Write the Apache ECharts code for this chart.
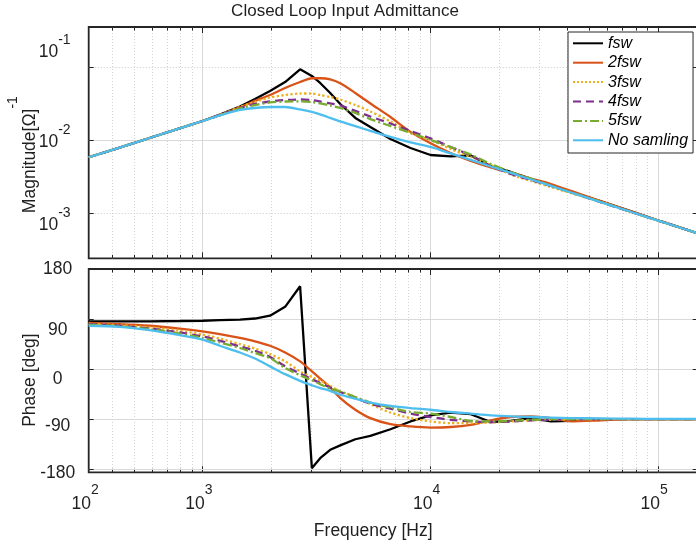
<!DOCTYPE html>
<html><head><meta charset="utf-8">
<script src="https://cdn.jsdelivr.net/npm/echarts@6/dist/echarts.min.js"></script>
<style>html,body{margin:0;padding:0;background:#fff}#c{width:696px;height:547px}</style>
</head><body><div id="c"></div>
<script>
// ---------------- data ----------------
const seriesNames = ['fsw', '2fsw', '3fsw', '4fsw', '5fsw', 'No samling'];
const freq = [316.2, 432, 586, 794, 1000, 1192, 1460, 1701, 1980, 2307, 2685, 3024, 3289, 3641, 4031, 4694, 5466, 6696, 8204, 10050, 12310, 15090, 18480, 22650, 27750, 33990, 41640, 56480, 76600, 103800, 150000];

// magnitude [1/Ohm]
const magFsw = [0.00581, 0.00785, 0.01065, 0.01444, 0.01816, 0.0223, 0.0285, 0.0363, 0.0466, 0.0618, 0.0922, 0.0747, 0.0600, 0.0438, 0.0310, 0.0200, 0.0150, 0.0103, 0.00778, 0.00624, 0.00596, 0.00615, 0.00442, 0.00366, 0.00294, 0.00243, 0.00195, 0.00145, 0.00106, 0.000773, 0.000533];
const mag2fsw = [0.00581, 0.00785, 0.01065, 0.01444, 0.01816, 0.02193, 0.0278, 0.0341, 0.0411, 0.0512, 0.0618, 0.0695, 0.0695, 0.0673, 0.0594, 0.0438, 0.0315, 0.0206, 0.0129, 0.00902, 0.00665, 0.00517, 0.00421, 0.00355, 0.00298, 0.00251, 0.00202, 0.00145, 0.00106, 0.000773, 0.000533];
const mag3fsw = [0.00581, 0.00785, 0.01065, 0.01444, 0.01816, 0.02193, 0.0282, 0.0330, 0.0380, 0.0411, 0.0431, 0.0431, 0.0411, 0.0386, 0.0357, 0.0300, 0.0245, 0.0179, 0.0125, 0.0100, 0.00754, 0.00586, 0.00456, 0.00338, 0.00276, 0.00228, 0.00188, 0.00143, 0.00104, 0.000768, 0.000533];
const mag4fsw = [0.00581, 0.00785, 0.01065, 0.01444, 0.01816, 0.0218, 0.0273, 0.0310, 0.0335, 0.0351, 0.0357, 0.0351, 0.0335, 0.0315, 0.0296, 0.0249, 0.0209, 0.0168, 0.0133, 0.0105, 0.00803, 0.00615, 0.00442, 0.00344, 0.00285, 0.00236, 0.00192, 0.00141, 0.00104, 0.000768, 0.000533];
const mag5fsw = [0.00581, 0.00785, 0.01065, 0.01444, 0.01816, 0.0217, 0.0269, 0.0300, 0.0325, 0.0335, 0.0337, 0.0330, 0.0315, 0.0296, 0.0273, 0.0234, 0.0193, 0.0155, 0.0125, 0.0100, 0.00803, 0.00634, 0.00471, 0.00366, 0.00298, 0.00239, 0.00193, 0.00143, 0.00104, 0.000768, 0.000533];
const magNoSamp = [0.00581, 0.00785, 0.01065, 0.01444, 0.01816, 0.0216, 0.0257, 0.0273, 0.0282, 0.0282, 0.0261, 0.0241, 0.0223, 0.0200, 0.0179, 0.0155, 0.0133, 0.0110, 0.00925, 0.00803, 0.00655, 0.00534, 0.00435, 0.00355, 0.00289, 0.00236, 0.00192, 0.00141, 0.00104, 0.000768, 0.000533];

// phase [deg]
const phFsw = [86, 86, 86, 86.5, 87, 88, 89, 91, 96, 112, 149, -178, -160, -145, -137, -126, -120, -108, -94, -83, -78, -81, -95, -93, -88, -94, -93, -90, -90, -90, -90];
const ph2fsw = [83, 81, 78, 73, 68, 63, 56, 50, 42, 30, 14, -4, -17, -33, -52, -73, -88, -99, -103, -105, -104, -100, -92, -86, -85, -88, -94, -92, -90, -90, -90];
const ph3fsw = [81.5, 79, 75, 69, 62, 55, 45, 37, 27, 14, -4, -14, -21, -30, -40, -50, -63, -78, -88, -94, -97, -97, -96, -94, -92, -91, -90, -90, -90, -90, -90];
const ph4fsw = [81, 78, 73, 66, 58.7, 51, 41, 33, 22, 5, -8, -18, -25, -33, -41, -52, -62, -71, -80, -86, -91, -94, -95, -94, -92, -91, -90, -90, -90, -90, -90];
const ph5fsw = [80, 77, 72, 64, 56, 48, 38, 29, 20, 2, -11, -20, -27, -35, -40, -50, -60, -69, -77, -80, -86, -93, -94, -93, -91, -90, -90, -90, -90, -90, -90];
const phNoSamp = [78, 76, 70, 61, 53, 42, 30, 19, 5, -9, -21, -29, -34, -39, -46, -53, -60, -66, -70, -73, -77, -80, -83, -85, -86, -87, -88, -88.5, -89, -89.5, -89.5];

// axis ticks and labels
const xMajorTicks = [1000, 10000, 100000];
const xMinorTicks = [400, 500, 600, 700, 800, 900, 2000, 3000, 4000, 5000, 6000, 7000, 8000, 9000, 20000, 30000, 40000, 50000, 60000, 70000, 80000, 90000];
const xTickLabelValues = [316.2, 1000, 10000, 100000];
const xTickLabelExps = ['2', '3', '4', '5'];
const magTicks = [0.001, 0.01, 0.1];
const magTickExps = ['-3', '-2', '-1'];
const phaseTicks = [-180, -90, 0, 90, 180];

// ---------------- chart ----------------
const FONT = "'Liberation Sans', Arial, Helvetica, sans-serif";
const TXT = '#1f1f1f';
const colors = ['#000000', '#D95319', '#EDB120', '#7E2F8E', '#77AC30', '#4DBEEE'];
const dashes = ['solid', 'solid', 'dotted', [8, 5], [9, 3, 2, 3], 'solid'];
const magSets = [magFsw, mag2fsw, mag3fsw, mag4fsw, mag5fsw, magNoSamp];
const phSets = [phFsw, ph2fsw, ph3fsw, ph4fsw, ph5fsw, phNoSamp];

const X_MIN = 316.2, X_MAX = 150000;
const MAG_MIN = 2.43e-4, MAG_MAX = 0.348;
const PH_MIN = -185.4, PH_MAX = 180;

function pairs(vals) { return freq.map((f, i) => [f, vals[i]]); }

function spacer(shift) {
  if (!shift) return ['', ''];
  const h = Math.round(Math.abs(shift) * 2);
  return shift > 0 ? ['{sp' + h + '| }\n', ''] : ['', '\n{sp' + h + '| }'];
}
const richBase = {
  b: { fontSize: 17.5, fontFamily: FONT, color: TXT, lineHeight: 20 },
  s: { fontSize: 14, fontFamily: FONT, color: TXT, padding: [0, 0, 24, 0] },
  n: { fontSize: 17.5, fontFamily: FONT, color: TXT, lineHeight: 20 }
};
[4, 8, 14, 20, 22, 24, 30].forEach(h => { richBase['sp' + h] = { fontSize: 2, lineHeight: h }; });

const xShiftRich = Object.assign({}, richBase, {
  s: { fontSize: 14, fontFamily: FONT, color: TXT, padding: [0, 7, 28, 0] }
});

function xLabel(v) {
  const i = xTickLabelValues.findIndex(t => Math.abs(Math.log10(t) - Math.log10(v)) < 0.01);
  return i < 0 ? '' : '{b|10}{s|' + xTickLabelExps[i] + '}';
}
const magShift = [12, 2, -15];
function magLabel(v) {
  const i = magTicks.findIndex(t => Math.abs(Math.log10(t) - Math.log10(v)) < 0.01);
  if (i < 0) return '';
  const sp = spacer(magShift[i]);
  return sp[0] + '{b|10}{s|' + magTickExps[i] + '}' + sp[1];
}
const phShift = { '180': 0, '90': 11, '0': 10, '-90': 7, '-180': 4 };
function phLabel(v) {
  const sp = spacer(phShift[String(v)] || 0);
  return sp[0] + '{n|' + v + '}' + sp[1];
}

const tickStyle = { stroke: '#262626', lineWidth: 1 };
function makeTickRenderer(solidY) {
  return function (params, api) {
    const cs = params.coordSys;
    const top = cs.y, bot = cs.y + cs.height, left = cs.x, right = cs.x + cs.width;
    const kind = api.value(2);
    const pt = api.coord([api.value(0), api.value(1)]);
    const ch = [];
    if (kind === 0 || kind === 1) {
      const px = Math.round(pt[0]) + 0.5;
      if (px <= left + 1 || px >= right - 1) return { type: 'group', children: [] };
      const len = kind === 1 ? 6 : 3.5;
      ch.push({ type: 'line', shape: { x1: px, y1: top, x2: px, y2: bot },
        style: kind === 1 ? { stroke: '#d9d9d9', lineWidth: 1 } : { stroke: '#d4d4d4', lineWidth: 1, lineDash: [1, 2] } });
      ch.push({ type: 'line', shape: { x1: px, y1: top, x2: px, y2: top + len }, style: tickStyle });
      ch.push({ type: 'line', shape: { x1: px, y1: bot, x2: px, y2: bot - len }, style: tickStyle });
    } else {
      const py = Math.round(pt[1]) + 0.5;
      const solid = solidY(api.value(1));
      if (py > top + 1.5 && py < bot - 1.5) {
        ch.push({ type: 'line', shape: { x1: left, y1: py, x2: right, y2: py },
          style: solid ? { stroke: '#d9d9d9', lineWidth: 1 } : { stroke: '#c8c8c8', lineWidth: 1, lineDash: [1, 2] } });
      }
      ch.push({ type: 'line', shape: { x1: left, y1: py, x2: left + 5, y2: py }, style: tickStyle });
      ch.push({ type: 'line', shape: { x1: right, y1: py, x2: right - 5, y2: py }, style: tickStyle });
    }
    return { type: 'group', children: ch };
  };
}
function tickData(yRef, xRef, yTicks) {
  const d = [];
  xMinorTicks.forEach(f => d.push([f, yRef, 0]));
  xMajorTicks.forEach(f => d.push([f, yRef, 1]));
  yTicks.forEach(v => d.push([xRef, v, 2]));
  return d;
}

const series = [
  { type: 'custom', xAxisIndex: 0, yAxisIndex: 0, z: 1, silent: true, clip: false,
    renderItem: makeTickRenderer(v => Math.abs(v - 0.01) < 1e-9),
    encode: { x: 0, y: 1 }, data: tickData(0.01, 1000, magTicks) },
  { type: 'custom', xAxisIndex: 1, yAxisIndex: 1, z: 1, silent: true, clip: false,
    renderItem: makeTickRenderer(() => true),
    encode: { x: 0, y: 1 }, data: tickData(0, 1000, phaseTicks) }
];
seriesNames.forEach((name, k) => {
  const ls = { color: colors[k], width: 2.3, type: dashes[k] };
  series.push({ name, type: 'line', xAxisIndex: 0, yAxisIndex: 0, data: pairs(magSets[k]),
    symbol: 'none', smooth: k === 0 ? false : 0.25, lineStyle: ls, itemStyle: { color: colors[k] }, z: 3 + k * 0.01, animation: false });
  series.push({ name, type: 'line', xAxisIndex: 1, yAxisIndex: 1, data: pairs(phSets[k]),
    symbol: 'none', smooth: k === 0 ? false : 0.25, lineStyle: ls, itemStyle: { color: colors[k] }, z: 3 + k * 0.01, animation: false });
});

const gridStyle = { show: true, borderColor: '#262626', borderWidth: 1.8, backgroundColor: '#fff', containLabel: false, outerBoundsMode: 'none' };
const option = {
  animation: false,
  backgroundColor: '#fff',
  title: { text: 'Closed Loop Input Admittance', left: 340, top: -2, textAlign: 'center',
    textStyle: { fontSize: 17, fontWeight: 'normal', fontFamily: FONT, color: TXT } },
  legend: {
    data: seriesNames, orient: 'vertical', left: 568, top: 32,
    itemWidth: 30, itemHeight: 14, itemGap: 3.4, padding: [3.3, 5, 4.7, 4],
    backgroundColor: '#fff', borderColor: '#262626', borderWidth: 1, borderRadius: 0,
    itemStyle: { opacity: 0 },
    textStyle: { fontSize: 16, fontStyle: 'italic', fontFamily: FONT, color: '#000', lineHeight: 16 },
    z: 10
  },
  grid: [
    Object.assign({ left: 88.7, top: 27, width: 609, height: 231.3 }, gridStyle),
    Object.assign({ left: 88.7, top: 269, width: 609, height: 203.3 }, gridStyle)
  ],
  xAxis: [
    { type: 'log', gridIndex: 0, logBase: 10, min: X_MIN, max: X_MAX,
      axisLine: { show: false }, axisTick: { show: false }, splitLine: { show: false }, axisLabel: { show: false } },
    { type: 'log', gridIndex: 1, logBase: 10, min: X_MIN, max: X_MAX,
      axisLine: { show: false }, axisTick: { show: false }, splitLine: { show: false },
      axisLabel: { show: true, showMinLabel: true, showMaxLabel: false, margin: 11, formatter: xLabel, rich: xShiftRich, align: 'center' },
      name: 'Frequency [Hz]', nameLocation: 'middle', nameGap: 50, nameMoveOverlap: false,
      nameTextStyle: { fontSize: 17.5, fontFamily: FONT, color: TXT, padding: [0, 40, 0, 0] } }
  ],
  yAxis: [
    { type: 'log', gridIndex: 0, logBase: 10, min: MAG_MIN, max: MAG_MAX,
      axisLine: { show: false }, axisTick: { show: false }, splitLine: { show: false },
      axisLabel: { show: true, showMinLabel: false, showMaxLabel: false, margin: 34, align: 'center', formatter: magLabel, rich: richBase },
      name: '{b|Magnitude[Ω]}{s|-1}', nameLocation: 'middle', nameGap: 35, nameRotate: 90, nameMoveOverlap: false,
      nameTextStyle: { rich: {
        b: { fontSize: 17.5, fontFamily: FONT, color: TXT, lineHeight: 20 },
        s: { fontSize: 14, fontFamily: FONT, color: TXT, padding: [0, 0, 34, 0] } },
        padding: [0, 24, 0, 0] } },
    { type: 'value', gridIndex: 1, min: PH_MIN, max: PH_MAX,
      axisLine: { show: false }, axisTick: { show: false, customValues: phaseTicks }, splitLine: { show: false },
      axisLabel: { show: true, customValues: phaseTicks, margin: 31, align: 'center', formatter: phLabel, rich: richBase },
      name: 'Phase [deg]', nameLocation: 'middle', nameGap: 50, nameRotate: 90, nameMoveOverlap: false,
      nameTextStyle: { fontSize: 17.5, fontFamily: FONT, color: TXT, padding: [0, 19, 0, 0] } }
  ],
  series
};
const chart = echarts.init(document.getElementById('c'), null, { renderer: 'canvas' });
chart.setOption(option);
</script>
</body></html>
